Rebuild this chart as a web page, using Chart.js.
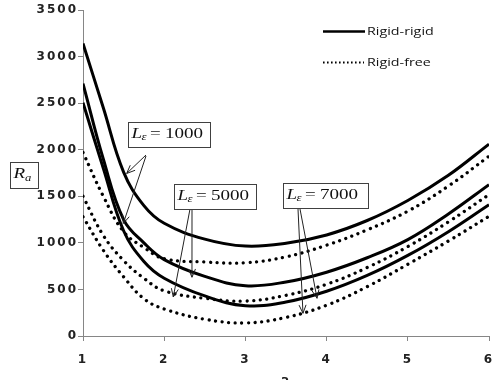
<!DOCTYPE html>
<html>
<head>
<meta charset="utf-8">
<script src="https://cdn.jsdelivr.net/npm/chart.js@4.4.0/dist/chart.umd.min.js"></script>
<style>
html, body { margin: 0; padding: 0; background: #fff; }
#wrap { width: 494px; height: 380px; }
</style>
</head>
<body>
<div id="wrap"><canvas id="myChart" width="494" height="380"></canvas></div>
<script>
// wavenumber a
var aValues = [1, 1.25, 1.5, 1.75, 2, 2.5, 3, 3.5, 4, 4.5, 5, 5.5, 6];

// rigid-rigid (solid)
var rr1000 = [3140, 2450, 1760, 1400, 1210, 1040, 965, 995, 1085, 1240, 1455, 1725, 2060];
var rr5000 = [2710, 1900, 1250, 1000, 820, 640, 540, 580, 685, 840, 1035, 1310, 1625];
var rr7000 = [2505, 1800, 1130, 800, 620, 430, 325, 365, 480, 650, 865, 1120, 1410];

// rigid-free (dotted)
var rf1000 = [1970, 1500, 1120, 950, 830, 795, 786, 850, 975, 1140, 1340, 1610, 1930];
var rf5000 = [1500, 1080, 810, 620, 485, 405, 375, 437, 555, 735, 960, 1225, 1518];
var rf7000 = [1280, 920, 635, 400, 290, 180, 140, 200, 330, 530, 770, 1020, 1285];

var legendLabels = ['Rigid-rigid', 'Rigid-free'];
var leValues = ['1000', '5000', '7000'];

function toPoints(ys) {
    return aValues.map(function (a, i) { return { x: a, y: ys[i] }; });
}

function solid(label, ys) {
    return {
        label: label, data: toPoints(ys),
        borderColor: '#000', borderWidth: 3, pointRadius: 0,
        tension: 0.4, fill: false
    };
}
function dotted(label, ys) {
    return {
        label: label, data: toPoints(ys),
        borderColor: '#000', borderWidth: 3.3, pointRadius: 0,
        borderDash: [0.001, 6.6], borderCapStyle: 'round',
        tension: 0.4, fill: false
    };
}

// draw text squeezed/stretched horizontally like the original picture
function stretchText(ctx, txt, x, y, font, sx) {
    ctx.save();
    ctx.font = font;
    ctx.translate(x, y);
    ctx.scale(sx, 1);
    ctx.fillText(txt, 0, 0);
    ctx.restore();
}

function arrow(ctx, x0, y0, x1, y1) {
    var ang = Math.atan2(y1 - y0, x1 - x0);
    var len = 9, spread = 0.4;
    ctx.beginPath();
    ctx.moveTo(x0, y0);
    ctx.lineTo(x1, y1);
    ctx.moveTo(x1 - len * Math.cos(ang - spread), y1 - len * Math.sin(ang - spread));
    ctx.lineTo(x1, y1);
    ctx.lineTo(x1 - len * Math.cos(ang + spread), y1 - len * Math.sin(ang + spread));
    ctx.stroke();
}

function leBox(ctx, left, top, w, h, value) {
    ctx.save();
    ctx.fillStyle = '#fff';
    ctx.fillRect(left, top, w, h);
    ctx.strokeStyle = '#404040';
    ctx.lineWidth = 1;
    ctx.strokeRect(Math.round(left) + 0.5, Math.round(top) + 0.5, w, h);
    ctx.fillStyle = '#111';
    ctx.textBaseline = 'alphabetic';
    var serif = '"Liberation Serif", "DejaVu Serif", serif';
    stretchText(ctx, 'L', left + 3.5, top + 15.5, 'italic 15px ' + serif, 1.27);
    stretchText(ctx, '\u03b5', left + 13.5, top + 18, 'italic 10px ' + serif, 1.27);
    stretchText(ctx, '=', left + 22, top + 15.5, '15px ' + serif, 1.27);
    stretchText(ctx, value, left + 37, top + 15.5, '15px ' + serif, 1.27);
    ctx.restore();
}

var annotations = {
    id: 'annotations',
    beforeDraw: function (chart) {
        chart.ctx.letterSpacing = '2px';
    },
    beforeDatasetsDraw: function (chart) {
        chart.ctx.letterSpacing = '0px';
    },
    afterDraw: function (chart) {
        var ctx = chart.ctx;
        var xs = chart.scales.x, ys = chart.scales.y;
        ctx.save();
        ctx.letterSpacing = '0px';

        // R_a label box
        ctx.strokeStyle = '#404040';
        ctx.lineWidth = 1;
        ctx.fillStyle = '#fff';
        ctx.fillRect(10, 162, 28, 26);
        ctx.strokeRect(10.5, 162.5, 28, 26);
        ctx.fillStyle = '#111';
        var serif = '"Liberation Serif", "DejaVu Serif", serif';
        stretchText(ctx, 'R', 13.5, 178, 'italic 15px ' + serif, 1.27);
        stretchText(ctx, 'a', 25, 181, 'italic 10px ' + serif, 1.27);

        // arrows from the boxes to the curves
        ctx.strokeStyle = '#222';
        ctx.lineWidth = 1;
        arrow(ctx, 146, 155, xs.getPixelForValue(1.538), ys.getPixelForValue(1745));
        arrow(ctx, 146, 156, xs.getPixelForValue(1.496), ys.getPixelForValue(1208));
        arrow(ctx, 190, 209, xs.getPixelForValue(2.112), ys.getPixelForValue(419));
        arrow(ctx, 192, 209, xs.getPixelForValue(2.342), ys.getPixelForValue(631));
        arrow(ctx, 298, 209, xs.getPixelForValue(3.709), ys.getPixelForValue(244));
        arrow(ctx, 300, 209, xs.getPixelForValue(3.882), ys.getPixelForValue(405));

        leBox(ctx, 128, 122, 82, 25, leValues[0]);
        leBox(ctx, 174, 184, 82, 25, leValues[1]);
        leBox(ctx, 283, 183, 85, 25, leValues[2]);

        // legend
        ctx.strokeStyle = '#000';
        ctx.lineWidth = 2.5;
        ctx.beginPath();
        ctx.moveTo(323, 31.5);
        ctx.lineTo(365, 31.5);
        ctx.stroke();
        ctx.lineWidth = 2;
        ctx.setLineDash([1.6, 2.4]);
        ctx.beginPath();
        ctx.moveTo(323, 62.5);
        ctx.lineTo(364, 62.5);
        ctx.stroke();
        ctx.setLineDash([]);
        ctx.fillStyle = '#111';
        ctx.textBaseline = 'middle';
        var sans = '"Open Sans", "Liberation Sans", sans-serif';
        stretchText(ctx, legendLabels[0], 367, 32, '11px ' + sans, 1.3);
        stretchText(ctx, legendLabels[1], 367, 63, '11px ' + sans, 1.3);
        ctx.restore();
    }
};

var tickFont = { family: '"DejaVu Sans", Verdana, sans-serif', size: 12, weight: 'bold' };
function plainTick(v) { return String(v); }

var ctx1 = document.getElementById('myChart').getContext('2d');
var myChart = new Chart(ctx1, {
    type: 'line',
    data: {
        datasets: [
            solid('Rigid-rigid, Le=1000', rr1000),
            solid('Rigid-rigid, Le=5000', rr5000),
            solid('Rigid-rigid, Le=7000', rr7000),
            dotted('Rigid-free, Le=1000', rf1000),
            dotted('Rigid-free, Le=5000', rf5000),
            dotted('Rigid-free, Le=7000', rf7000)
        ]
    },
    options: {
        responsive: false,
        animation: false,
        layout: { padding: { top: 10, right: 5, left: 0, bottom: 0 } },
        plugins: {
            legend: { display: false },
            tooltip: { enabled: false }
        },
        scales: {
            x: {
                type: 'linear',
                min: 1, max: 6,
                ticks: { stepSize: 1, color: '#222', font: tickFont, padding: 12, maxRotation: 0, callback: plainTick },
                grid: { drawOnChartArea: false, drawTicks: true, tickLength: 5, color: '#868686' },
                border: { display: true, color: '#868686', width: 1 },
                title: { display: true, text: 'a', color: '#222', font: tickFont, padding: { top: 0, bottom: -8 } },
                afterFit: function (scale) {
                    scale.height = 44;
                    scale.paddingLeft = 0;
                    scale.paddingRight = 0;
                }
            },
            y: {
                min: 0, max: 3500,
                ticks: { stepSize: 500, color: '#222', font: tickFont, padding: 0, callback: plainTick },
                grid: { drawOnChartArea: false, drawTicks: true, tickLength: 5, color: '#868686' },
                border: { display: true, color: '#868686', width: 1 },
                afterFit: function (scale) { scale.width = 83; }
            }
        }
    },
    plugins: [annotations]
});
</script>
</body>
</html>
